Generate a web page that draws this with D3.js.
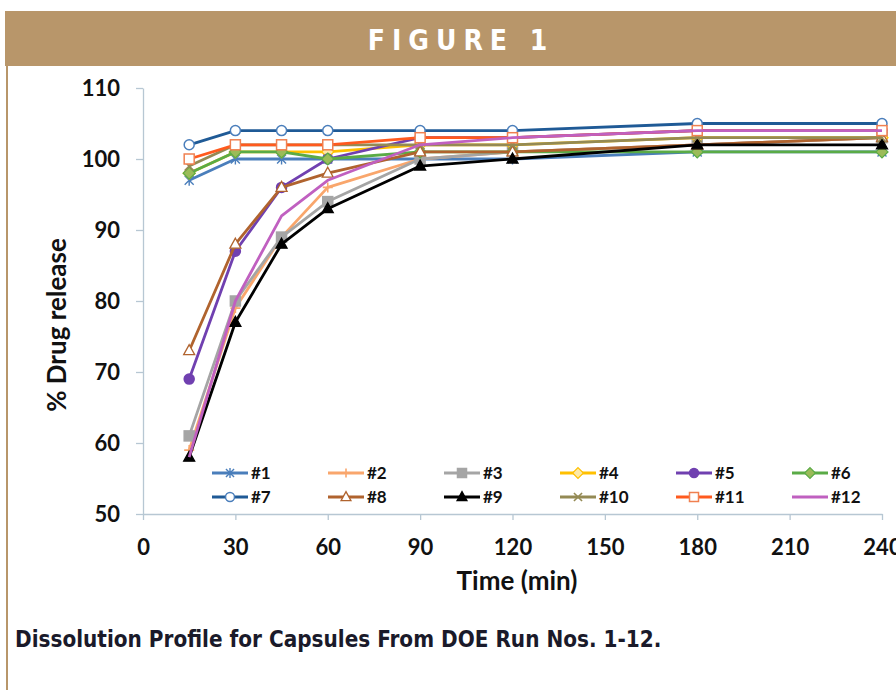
<!DOCTYPE html>
<html>
<head>
<meta charset="utf-8">
<script src="https://cdn.jsdelivr.net/npm/d3@7/dist/d3.min.js"></script>
<style>
  html, body { margin: 0; padding: 0; background: #fff; }
  svg { display: block; }
  text { font-family: Lato, "Open Sans", sans-serif; }
</style>
</head>
<body>
<svg id="chart" width="896" height="690"></svg>
<script>
// Sampling times (min)
const times = [15, 30, 45, 60, 90, 120, 180, 240];

// Percent drug released per DOE run
const run1  = [97, 100, 100, 100, 100, 100, 101, 101];
const run2  = [59, 79, 89, 96, 100, 101, 102, 103];
const run3  = [61, 80, 89, 94, 100, 101, 102, 103];
const run4  = [98, 101, 101, 101, 102, 102, 103, 103];
const run5  = [69, 87, 96, 100, 103, 103, 104, 104];
const run6  = [98, 101, 101, 100, 101, 101, 101, 101];
const run7  = [102, 104, 104, 104, 104, 104, 105, 105];
const run8  = [73, 88, 96, 98, 101, 101, 102, 103];
const run9  = [58, 77, 88, 93, 99, 100, 102, 102];
const run10 = [99, 102, 102, 102, 102, 102, 103, 103];
const run11 = [100, 102, 102, 102, 103, 103, 104, 104];
const run12 = [58, 80, 92, 97, 102, 103, 104, 104];

const seriesNames = ["#1", "#2", "#3", "#4", "#5", "#6", "#7", "#8", "#9", "#10", "#11", "#12"];
const seriesValues = [run1, run2, run3, run4, run5, run6, run7, run8, run9, run10, run11, run12];

const xTicks = [0, 30, 60, 90, 120, 150, 180, 210, 240];
const yTicks = [50, 60, 70, 80, 90, 100, 110];

// Line colour and marker style per run
const styles = [
  { color: "#4a7ebb", marker: "asterisk" },
  { color: "#f9a66c", marker: "plus" },
  { color: "#a5a5a5", marker: "square", fill: "#a5a5a5" },
  { color: "#ffc000", marker: "diamond", fill: "#fde9a8" },
  { color: "#7040b0", marker: "circle", fill: "#7040b0" },
  { color: "#5aab46", marker: "diamond", fill: "#9bbb59" },
  { color: "#1f5a96", marker: "circle", fill: "#ffffff", stroke: "#4a7ebb" },
  { color: "#b0632e", marker: "triangle", fill: "#ffffff" },
  { color: "#000000", marker: "triangle", fill: "#000000" },
  { color: "#948a54", marker: "x" },
  { color: "#ff5a1e", marker: "square", fill: "#ffffff", stroke: "#f08050" },
  { color: "#c060c0", marker: "none" }
];

const svg = d3.select("#chart");

// Header band and frame
const tan = "#b8966a";
svg.append("rect").attr("x", 5).attr("y", 11).attr("width", 891).attr("height", 55).attr("fill", tan);
svg.append("rect").attr("x", 6).attr("y", 66).attr("width", 2).attr("height", 624).attr("fill", tan);
svg.append("text")
  .attr("x", 461).attr("y", 50)
  .attr("text-anchor", "middle")
  .attr("fill", "#ffffff")
  .attr("font-size", 28)
  .attr("font-weight", 700)
  .attr("letter-spacing", 7)
  .style("font-family", "'DejaVu Sans Condensed', 'Liberation Sans', sans-serif")
  .text("FIGURE 1");

// Plot area
const x = d3.scaleLinear().domain([0, 240]).range([143, 882]);
const y = d3.scaleLinear().domain([50, 110]).range([514, 88]);

const axisColor = "#b7c7d3";

const xAxis = svg.append("g")
  .attr("transform", `translate(0,${y(50)})`)
  .call(d3.axisBottom(x).tickValues(xTicks).tickSize(6).tickSizeOuter(0).tickPadding(19));
const yAxis = svg.append("g")
  .attr("transform", `translate(${x(0)},0)`)
  .call(d3.axisLeft(y).tickValues(yTicks).tickSize(7).tickSizeOuter(0).tickPadding(16));

[xAxis, yAxis].forEach(g => {
  g.selectAll("path, line").attr("stroke", axisColor).attr("stroke-width", 1.3);
  g.selectAll("text")
    .attr("fill", "#111")
    .attr("font-size", 22)
    .attr("font-weight", 700)
    .style("font-family", "Lato, sans-serif");
});
yAxis.selectAll("text").attr("dy", "0.35em");

// Axis titles
svg.append("text")
  .attr("x", 517).attr("y", 590)
  .attr("text-anchor", "middle")
  .attr("font-size", 26).attr("font-weight", 700).attr("fill", "#111")
  .text("Time (min)");
svg.append("text")
  .attr("transform", `translate(66,${(88 + 514) / 2 + 24}) rotate(-90)`)
  .attr("text-anchor", "middle")
  .attr("font-size", 26).attr("font-weight", 700).attr("fill", "#111")
  .text("% Drug release");

// Marker drawing
function drawMarker(g, st, cx, cy, s) {
  const stroke = st.stroke || st.color;
  switch (st.marker) {
    case "circle":
      g.append("circle").attr("cx", cx).attr("cy", cy).attr("r", s * 0.5)
        .attr("fill", st.fill).attr("stroke", stroke).attr("stroke-width", 1.5);
      break;
    case "square":
      g.append("rect").attr("x", cx - s * 0.5).attr("y", cy - s * 0.5)
        .attr("width", s).attr("height", s)
        .attr("fill", st.fill).attr("stroke", stroke).attr("stroke-width", 1.5);
      break;
    case "diamond":
      g.append("path")
        .attr("d", `M${cx},${cy - s * 0.6}L${cx + s * 0.6},${cy}L${cx},${cy + s * 0.6}L${cx - s * 0.6},${cy}Z`)
        .attr("fill", st.fill).attr("stroke", stroke).attr("stroke-width", 1.2);
      break;
    case "triangle":
      g.append("path")
        .attr("d", `M${cx},${cy - s * 0.6}L${cx + s * 0.55},${cy + s * 0.4}L${cx - s * 0.55},${cy + s * 0.4}Z`)
        .attr("fill", st.fill).attr("stroke", stroke).attr("stroke-width", 1.3);
      break;
    case "plus":
      g.append("path")
        .attr("d", `M${cx - s * 0.5},${cy}H${cx + s * 0.5}M${cx},${cy - s * 0.5}V${cy + s * 0.5}`)
        .attr("stroke", stroke).attr("stroke-width", 1.6).attr("fill", "none");
      break;
    case "x":
      g.append("path")
        .attr("d", `M${cx - s * 0.45},${cy - s * 0.45}L${cx + s * 0.45},${cy + s * 0.45}M${cx + s * 0.45},${cy - s * 0.45}L${cx - s * 0.45},${cy + s * 0.45}`)
        .attr("stroke", stroke).attr("stroke-width", 1.6).attr("fill", "none");
      break;
    case "asterisk":
      g.append("path")
        .attr("d", `M${cx - s * 0.45},${cy - s * 0.45}L${cx + s * 0.45},${cy + s * 0.45}M${cx + s * 0.45},${cy - s * 0.45}L${cx - s * 0.45},${cy + s * 0.45}M${cx},${cy - s * 0.55}V${cy + s * 0.55}`)
        .attr("stroke", stroke).attr("stroke-width", 1.4).attr("fill", "none");
      break;
    default:
      break;
  }
}

// Series lines and markers
const line = d3.line().x(d => x(d[0])).y(d => y(d[1]));
const plot = svg.append("g");
seriesValues.forEach((vals, i) => {
  const st = styles[i];
  const pts = times.map((t, j) => [t, vals[j]]);
  const g = plot.append("g");
  g.append("path").datum(pts)
    .attr("d", line)
    .attr("fill", "none")
    .attr("stroke", st.color)
    .attr("stroke-width", 2.8)
    .attr("stroke-linejoin", "round");
  pts.forEach(p => drawMarker(g, st, x(p[0]), y(p[1]), 10));
});

// Legend: two rows of six
const legend = svg.append("g");
seriesNames.forEach((name, i) => {
  const col = i % 6, row = Math.floor(i / 6);
  const lx = 212 + col * 116, ly = 473 + row * 24;
  const st = styles[i];
  const g = legend.append("g");
  g.append("line").attr("x1", lx).attr("x2", lx + 36).attr("y1", ly).attr("y2", ly)
    .attr("stroke", st.color).attr("stroke-width", 2.8);
  drawMarker(g, st, lx + 18, ly, 9);
  g.append("text").attr("x", lx + 39).attr("y", ly).attr("dy", "0.35em")
    .attr("font-size", 17).attr("font-weight", 700).attr("fill", "#111")
    .text(name);
});

// Caption
svg.append("text")
  .attr("x", 15).attr("y", 647)
  .attr("font-size", 22.3).attr("font-weight", 700).attr("fill", "#1a1a2a")
  .style("font-family", "'DejaVu Sans Condensed', Lato, sans-serif")
  .text("Dissolution Profile for Capsules From DOE Run Nos. 1-12.");
</script>
</body>
</html>
